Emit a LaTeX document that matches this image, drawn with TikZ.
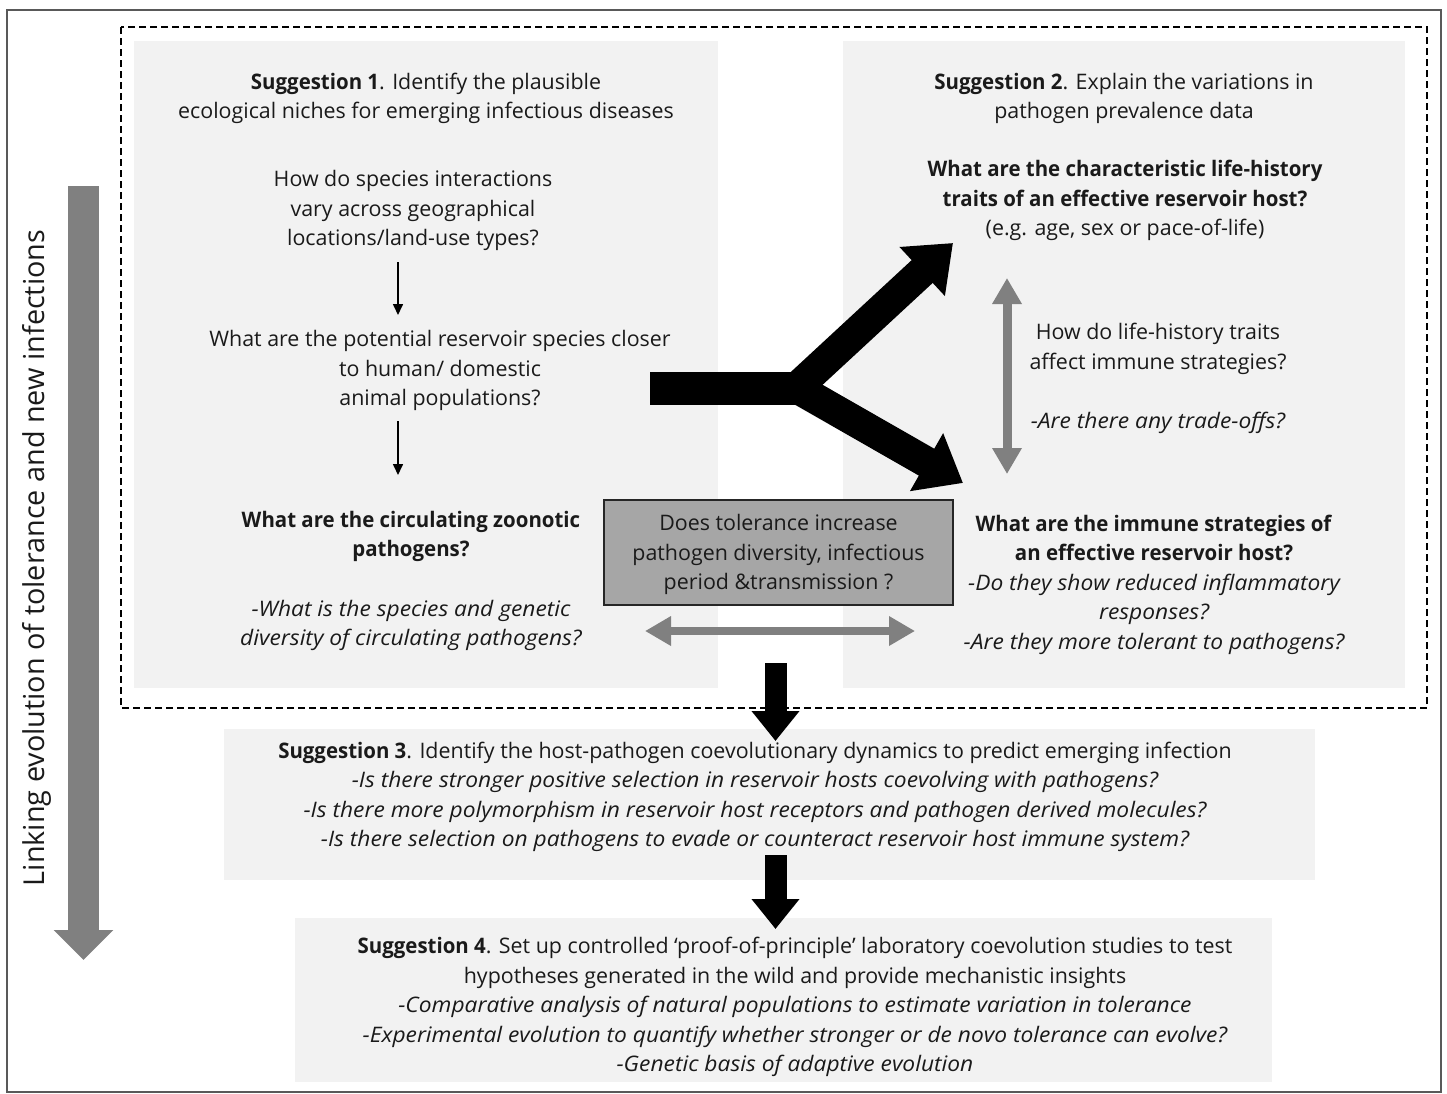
\documentclass[tikz,border=0pt]{standalone}
\usepackage{fontspec}
\setmainfont{Open Sans}[BoldFeatures={FakeStretch=0.955},ItalicFeatures={FakeStretch=1.064}]
\usetikzlibrary{arrows.meta}
\definecolor{panelg}{HTML}{F2F2F2}
\definecolor{arrowg}{HTML}{808080}
\definecolor{boxg}{HTML}{A6A6A6}
\definecolor{txtc}{HTML}{1A1A1A}
\begin{document}
\begin{tikzpicture}[x=1pt,y=-1pt,
  panel/.style={fill=panelg,draw=none},
  txt/.style={align=center,font=\fontsize{21.4}{29.5}\selectfont,text=txtc,inner sep=0pt},
  thinarrow/.style={draw=black,line width=1.6pt,-{Triangle[length=11pt,width=10pt]}},
  grayarrow/.style={draw=arrowg,line width=9pt,{Triangle[length=26pt,width=28pt]}-{Triangle[length=26pt,width=28pt]}},
  blackarrow/.style={draw=black,line width=22pt,-{Triangle[length=30pt,width=46pt]}},
  yarm/.style={draw=black,line width=31pt,-{Triangle[length=42pt,width=64pt]}}
]
\useasboundingbox (0,0) rectangle (1447,1093);
% outer frame
\draw[draw=black!65,line width=1.2pt] (7,10) rectangle (1441,1092);
% panels
\fill[panel] (134,41) rectangle (718,688);
\fill[panel] (843,41) rectangle (1405,688);
\fill[panel] (224,729) rectangle (1315,880);
\fill[panel] (295,918) rectangle (1272,1082);
% dashed frame
\draw[black,line width=1.5pt,dash pattern=on 7pt off 4pt] (121,27) rectangle (1427,708);

% left vertical arrow
\coordinate (ltop) at (83.5,186);
\coordinate (lbot) at (83.5,960);
\draw[draw=arrowg,line width=31pt,-{Triangle[length=30pt,width=58pt]}] (ltop) -- (lbot);
\node[txt,rotate=90,font=\fontsize{28.8}{34}\selectfont] (link) at (37,558) {Linking evolution of tolerance and new infections};

% Suggestion 1 panel
\node[txt] (s1) at (426,98.5) {\textbf{Suggestion 1}. Identify the plausible\\ecological niches for emerging infectious diseases};
\node[txt] (q1a) at (413,210.5) {How do species interactions\\vary across geographical\\locations/land-use types?};
\node[txt] (q1b) at (440,370.5) {What are the potential reservoir species closer\\to human/ domestic\\animal populations?};
\node[txt] (q1c) at (411,536.5) {\textbf{What are the circulating zoonotic}\\\textbf{pathogens?}};
\node[txt] (q1d) at (411,625.5) {\itshape -What is the species and genetic\\\itshape diversity of circulating pathogens?};
\coordinate (a1s) at (398,262);
\coordinate (a1e) at (398,315);
\coordinate (a2s) at (398,421);
\coordinate (a2e) at (398,475);
\draw[thinarrow] (a1s) -- (a1e);
\draw[thinarrow] (a2s) -- (a2e);

% Suggestion 2 panel
\node[txt] (s2) at (1124,98.5) {\textbf{Suggestion 2}. Explain the variations in\\pathogen prevalence data};
\node[txt] (q2a) at (1125,200.5) {\textbf{What are the characteristic life-history}\\\textbf{traits of an effective reservoir host?}\\(e.g. age, sex or pace-of-life)};
\node[txt] (q2b) at (1158,378.5) {How do life-history traits\\affect immune strategies?\\[29.5pt]\itshape -Are there any trade-offs?};
\node[txt] (q2c) at (1154,584.5) {\textbf{What are the immune strategies of}\\\textbf{an effective reservoir host?}\\\itshape -Do they show reduced inflammatory\\\itshape responses?\\\itshape -Are they more tolerant to pathogens?};
\coordinate (v2s) at (1007,278);
\coordinate (v2e) at (1007,474);
\draw[grayarrow] (v2s) -- (v2e);

% central tolerance box
\node[draw=black!85,fill=boxg,line width=1.5pt,minimum width=349pt,minimum height=105pt] (tolbox) at (778.5,552.5) {};
\node[txt] (tol) at (778.5,554.5) {Does tolerance increase\\pathogen diversity, infectious\\period \&transmission ?};
\coordinate (hs) at (645,631);
\coordinate (he) at (915,631);
\draw[grayarrow,line width=8pt] (hs) -- (he);

% Y arrow
\coordinate (ybar) at (650,388);
\coordinate (yj) at (805,388);
\coordinate (yu0) at (792,392);
\coordinate (yl0) at (790,384);
\coordinate (yut) at (953,243);
\coordinate (ylt) at (963,483);
\draw[black,line width=33pt] (ybar) -- (yj);
\draw[yarm] (yu0) -- (yut);
\draw[yarm] (yl0) -- (ylt);

% down arrows
\coordinate (d1s) at (775.5,663);
\coordinate (d1e) at (775.5,741);
\coordinate (d2s) at (775.5,855);
\coordinate (d2e) at (775.5,929);
\draw[blackarrow] (d1s) -- (d1e);
\draw[blackarrow] (d2s) -- (d2e);

% Suggestion 3
\node[txt] (s3) at (755,797) {\textbf{Suggestion 3}. Identify the host-pathogen coevolutionary dynamics to predict emerging infection\\\itshape -Is there stronger positive selection in reservoir hosts coevolving with pathogens?\\\itshape -Is there more polymorphism in reservoir host receptors and pathogen derived molecules?\\\itshape -Is there selection on pathogens to evade or counteract reservoir host immune system?};

% Suggestion 4
\node[txt] (s4) at (795,1007) {\textbf{Suggestion 4}. Set up controlled ‘proof-of-principle’ laboratory coevolution studies to test\\hypotheses generated in the wild and provide mechanistic insights\\\itshape -Comparative analysis of natural populations to estimate variation in tolerance\\\itshape -Experimental evolution to quantify whether stronger or de novo tolerance can evolve?\\\itshape -Genetic basis of adaptive evolution};
\end{tikzpicture}
\end{document}
